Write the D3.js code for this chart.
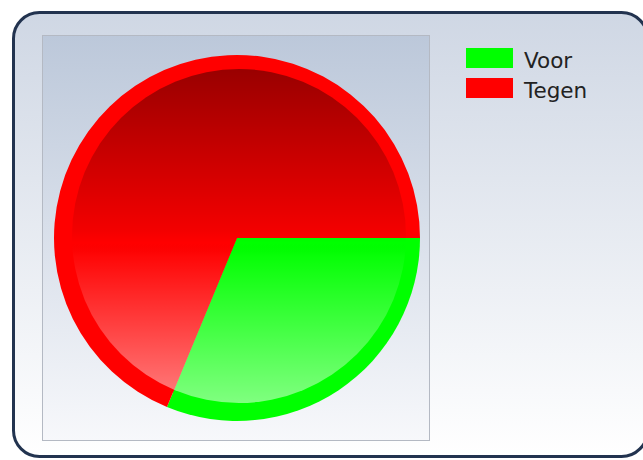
<!DOCTYPE html>
<meta charset="utf-8">
<style>
  body { margin: 0; background: #fff; }
</style>
<script src="https://d3js.org/d3.v7.min.js"></script>
<div id="chart"></div>
<script>
  // data
  var categories = ["Voor", "Tegen"];
  var values = [5, 11];
  var colors = ["#00ff00", "#ff0000"];

  var width = 643, height = 460;

  var svg = d3.select("#chart")
    .append("svg")
    .attr("width", width)
    .attr("height", height);

  var defs = svg.append("defs");

  var frameGrad = defs.append("linearGradient")
    .attr("id", "frameGrad").attr("x1", 0).attr("y1", 0).attr("x2", 0).attr("y2", 1);
  frameGrad.append("stop").attr("offset", "0%").attr("stop-color", "#cfd7e4");
  frameGrad.append("stop").attr("offset", "100%").attr("stop-color", "#ffffff");

  var plotGrad = defs.append("linearGradient")
    .attr("id", "plotGrad").attr("x1", 0).attr("y1", 0).attr("x2", 0).attr("y2", 1);
  plotGrad.append("stop").attr("offset", "0%").attr("stop-color", "#bcc8da");
  plotGrad.append("stop").attr("offset", "100%").attr("stop-color", "#f7f8fb");

  // dark at the top, light at the bottom of the inner disc
  var shade = defs.append("linearGradient")
    .attr("id", "shade").attr("x1", 0).attr("y1", 0).attr("x2", 0).attr("y2", 1);
  shade.append("stop").attr("offset", "0%").attr("stop-color", "#000").attr("stop-opacity", 0.4);
  shade.append("stop").attr("offset", "48%").attr("stop-color", "#000").attr("stop-opacity", 0.05);
  shade.append("stop").attr("offset", "52%").attr("stop-color", "#000").attr("stop-opacity", 0);
  shade.append("stop").attr("offset", "56%").attr("stop-color", "#fff").attr("stop-opacity", 0.03);
  shade.append("stop").attr("offset", "100%").attr("stop-color", "#fff").attr("stop-opacity", 0.5);

  // outer frame
  svg.append("rect")
    .attr("x", 13.5).attr("y", 12.5)
    .attr("width", 634).attr("height", 444)
    .attr("rx", 26).attr("ry", 26)
    .attr("fill", "url(#frameGrad)")
    .attr("stroke", "#22334f")
    .attr("stroke-width", 3);

  // plot area
  svg.append("rect")
    .attr("x", 42.5).attr("y", 35.5)
    .attr("width", 387).attr("height", 405)
    .attr("fill", "url(#plotGrad)")
    .attr("stroke", "#b4b9c3");

  // pie
  var cx = 237, cy = 238, R = 183, r = 167;
  var pie = d3.pie().sort(null)
    .startAngle(Math.PI / 2).endAngle(Math.PI / 2 + 2 * Math.PI);
  var arcs = pie(values);

  var g = svg.append("g").attr("transform", "translate(" + cx + "," + cy + ")");

  g.selectAll(".outer")
    .data(arcs)
    .enter().append("path")
    .attr("class", "outer")
    .attr("d", d3.arc().innerRadius(0).outerRadius(R))
    .attr("fill", function(d, i) { return colors[i]; });

  var inner = d3.arc().innerRadius(0).outerRadius(r);
  g.selectAll(".inner")
    .data(arcs)
    .enter().append("path")
    .attr("class", "inner")
    .attr("d", inner)
    .attr("fill", function(d, i) { return colors[i]; });

  g.append("circle")
    .attr("cx", 2).attr("cy", -2).attr("r", r)
    .attr("fill", "url(#shade)");

  // legend
  var legend = svg.append("g").attr("transform", "translate(466,48)");
  var items = legend.selectAll("g")
    .data(categories)
    .enter().append("g")
    .attr("transform", function(d, i) { return "translate(0," + i * 30 + ")"; });
  items.append("rect")
    .attr("width", 47).attr("height", 20)
    .attr("fill", function(d, i) { return colors[i]; });
  items.append("text")
    .attr("x", 58).attr("y", 20)
    .attr("font-family", "DejaVu Sans, sans-serif")
    .attr("font-size", "21.5px")
    .attr("fill", "#222")
    .text(function(d) { return d; });
</script>
